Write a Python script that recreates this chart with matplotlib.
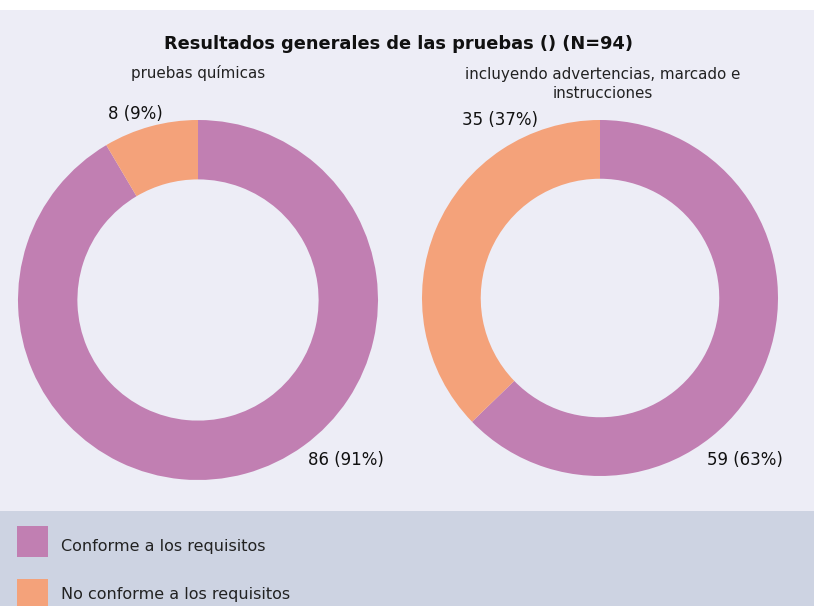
import matplotlib.pyplot as plt
from matplotlib.patches import Rectangle

# data
categories = ['Conforme a los requisitos', 'No conforme a los requisitos']
colors = ['#C17FB2', '#F4A27A']
quimicas = [86, 8]
advertencias = [59, 35]
subtitles = ['pruebas químicas', 'incluyendo advertencias, marcado e\ninstrucciones']
title = 'Resultados generales de las pruebas () (N=94)'

plt.rcParams['font.family'] = ['DejaVu Sans']

fig = plt.figure(figsize=(8.14, 6.06), dpi=100)
fig.patch.set_facecolor('#EDEDF6')

# top white strip and bottom legend band
fig.patches.append(Rectangle((0, 1 - 10 / 606), 1, 10 / 606, transform=fig.transFigure,
                             facecolor='white', edgecolor='none', zorder=0))
fig.patches.append(Rectangle((0, 0), 1, 95 / 606, transform=fig.transFigure,
                             facecolor='#CDD3E2', edgecolor='none', zorder=0))

fig.text(398 / 814, 1 - 44 / 606, title, ha='center', va='center',
         fontsize=12.8, fontweight='bold', color='#111111')

W, H = 814, 606
boxes = [(18, 120, 360), (422, 120, 356)]
# label positions in axes data units (layout only)
label_pos = [[(0.82, -0.89), (-0.35, 1.035)],
             [(0.815, -0.91), (-0.56, 1.0)]]
sub_y = [73, 84]
sub_x = [198, 603]

for i, vals in enumerate([quimicas, advertencias]):
    x0, y0, s = boxes[i]
    ax = fig.add_axes([x0 / W, 1 - (y0 + s) / H, s / W, s / H])
    ax.pie(vals, colors=colors, startangle=90, counterclock=False,
           wedgeprops=dict(width=0.33, edgecolor='none'))
    ax.set_xlim(-1, 1)
    ax.set_ylim(-1, 1)
    ax.set_aspect('equal')
    ax.axis('off')
    total = sum(vals)
    for v, (lx, ly) in zip(vals, label_pos[i]):
        ax.text(lx, ly, f'{v} ({round(100 * v / total)}%)', ha='center', va='center',
                fontsize=12, color='#111111', clip_on=False)
    fig.text(sub_x[i] / W, 1 - sub_y[i] / H, subtitles[i], ha='center', va='center',
             fontsize=10.9, color='#222222', linespacing=1.35)

# legend
for j, (cat, col) in enumerate(zip(categories, colors)):
    ytop = 526 + j * 53
    fig.patches.append(Rectangle((17 / W, 1 - (ytop + 31) / H), 31 / W, 31 / H,
                                 transform=fig.transFigure, facecolor=col, edgecolor='none'))
    fig.text(61 / W, 1 - (ytop + 20 - 4 * j) / H, cat, ha='left', va='center',
             fontsize=11.5, color='#222222')

fig.savefig('out.png', dpi=100, facecolor=fig.get_facecolor())
